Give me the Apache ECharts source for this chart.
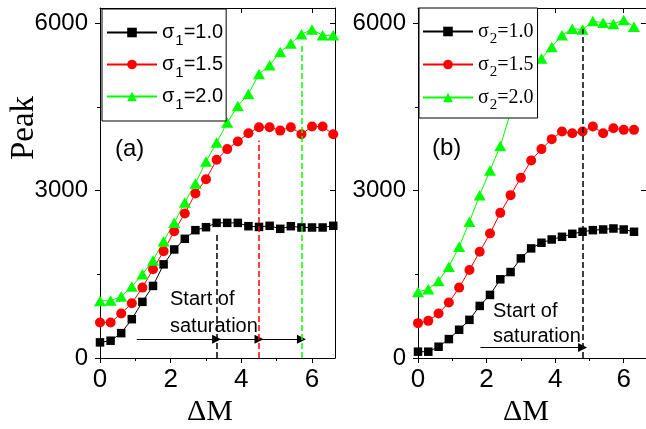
<!DOCTYPE html>
<html>
<head>
<meta charset="utf-8">
<script src="https://cdn.jsdelivr.net/npm/echarts@6/dist/echarts.min.js"></script>
<style>
  html, body { margin: 0; padding: 0; background: #fff; }
  #chart { width: 646px; height: 429px; }
</style>
</head>
<body>
<div id="chart"></div>
<script>
// ΔM sample positions for each panel
const deltaMA = [0, 0.3, 0.6, 0.9, 1.2, 1.5, 1.8, 2.1, 2.4, 2.7, 3.0, 3.3, 3.6, 3.9, 4.2, 4.5, 4.8, 5.1, 5.4, 5.7, 6.0, 6.3, 6.6];
const deltaMB = [0, 0.3, 0.6, 0.9, 1.2, 1.5, 1.8, 2.1, 2.4, 2.7, 3.0, 3.3, 3.6, 3.9, 4.2, 4.5, 4.8, 5.1, 5.4, 5.7, 6.0, 6.3];

// Panel (a): peak vs ΔM for three σ1 values
const peakA10 = [280, 310, 446, 696, 1006, 1292, 1679, 1946, 2137, 2292, 2345, 2423, 2423, 2423, 2363, 2350, 2370, 2316, 2363, 2340, 2340, 2340, 2370];
const peakA15 = [637, 637, 798, 982, 1262, 1590, 1916, 2274, 2590, 2950, 3205, 3554, 3745, 3881, 4031, 4138, 4138, 4077, 4138, 4013, 4149, 4149, 4013];
const peakA20 = [1024, 1030, 1101, 1280, 1500, 1750, 2095, 2423, 2790, 3130, 3524, 3863, 4220, 4519, 4733, 5090, 5250, 5488, 5638, 5805, 5888, 5786, 5786];

// Panel (b): peak vs ΔM for three σ2 values
const peakB10 = [113, 113, 202, 339, 506, 684, 934, 1131, 1411, 1541, 1786, 1965, 2066, 2125, 2173, 2227, 2263, 2292, 2304, 2322, 2304, 2263];
const peakB15 = [625, 666, 798, 994, 1262, 1577, 1905, 2232, 2602, 2920, 3230, 3542, 3745, 3924, 4060, 4030, 4060, 4149, 4030, 4120, 4090, 4090];
const peakB20 = [1185, 1232, 1381, 1637, 1994, 2441, 2920, 3363, 3800, 4400, 4750, 5072, 5370, 5578, 5786, 5905, 5888, 6040, 6010, 5990, 6060, 5940];

// Series names (σ + subscript index + value)
const namesA = ['σ1=1.0', 'σ1=1.5', 'σ1=2.0'];
const namesB = ['σ2=1.0', 'σ2=1.5', 'σ2=2.0'];

// Tick values
const xMajorTicks = [0, 2, 4, 6];
const xMinorTicks = [1, 3, 5];
const yMajorTicks = [0, 3000, 6000];
const yMinorTicks = [1500, 4500];
const xMax = 6.65;
const yMax = 6275;

// Start-of-saturation markers: ΔM position and dashed-line height
const satA = [3.3, 4.5, 5.7];
const satTopA = [2250, 3900, 5650];
const satB = [4.8];
const satTopB = [5900];
// Arrow baselines and starting ΔM
const arrowA = { from: 1.04, y: 335 };
const arrowB = { from: 1.82, y: 188 };

const SANS = '"Liberation Sans", Arial, Helvetica, sans-serif';
const SERIF = '"Liberation Serif", "Times New Roman", Times, serif';
const colors = ['#000000', '#ff0000', '#00ff00'];
const symbols = ['rect', 'circle', 'triangle'];
const symbolSizes = [8.5, 10, [12, 10.5]];

const chart = echarts.init(document.getElementById('chart'), null, { renderer: 'canvas' });

const grids = [
  { left: 100, top: 8, width: 235, height: 350 },
  { left: 418, top: 8, width: 235, height: 350 }
];

const xAxes = [];
const yAxes = [];

function addAxes(gi) {
  const base = { gridIndex: gi, type: 'value', splitLine: { show: false }, animation: false, z: 0 };
  const lineOn = { show: true, onZero: false, lineStyle: { color: '#000', width: 1 } };
  const lineOff = { show: false };
  const tickStyle = { color: '#000', width: 1 };
  const xi = xAxes.length;
  // bottom: line, major ticks + labels
  xAxes.push(Object.assign({}, base, {
    position: 'bottom', min: 0, max: xMax, axisLine: lineOn,
    axisTick: { show: true, inside: false, length: 5, customValues: xMajorTicks, lineStyle: tickStyle },
    axisLabel: { show: true, customValues: xMajorTicks, margin: 9, color: '#000', fontSize: 26, fontFamily: SANS, formatter: v => String(v) }
  }));
  // bottom: minor ticks
  xAxes.push(Object.assign({}, base, {
    position: 'bottom', min: 0, max: xMax, axisLine: lineOff,
    axisTick: { show: true, inside: false, length: 3, customValues: xMinorTicks, lineStyle: tickStyle },
    axisLabel: { show: false }
  }));
  // top mirror
  xAxes.push(Object.assign({}, base, {
    position: 'top', min: 0, max: xMax, axisLine: lineOn,
    axisTick: { show: true, inside: true, length: 5, customValues: xMajorTicks, lineStyle: tickStyle },
    axisLabel: { show: false }
  }));
  xAxes.push(Object.assign({}, base, {
    position: 'top', min: 0, max: xMax, axisLine: lineOff,
    axisTick: { show: true, inside: true, length: 3, customValues: xMinorTicks, lineStyle: tickStyle },
    axisLabel: { show: false }
  }));
  const yi = yAxes.length;
  yAxes.push(Object.assign({}, base, {
    position: 'left', min: 0, max: yMax, axisLine: lineOn,
    axisTick: { show: true, inside: false, length: 5, customValues: yMajorTicks, lineStyle: tickStyle },
    axisLabel: { show: true, customValues: yMajorTicks, margin: 12, color: '#000', fontSize: 24, fontFamily: SANS, formatter: v => String(v) }
  }));
  yAxes.push(Object.assign({}, base, {
    position: 'left', min: 0, max: yMax, axisLine: lineOff,
    axisTick: { show: true, inside: false, length: 3, customValues: yMinorTicks, lineStyle: tickStyle },
    axisLabel: { show: false }
  }));
  yAxes.push(Object.assign({}, base, {
    position: 'right', min: 0, max: yMax, axisLine: lineOn,
    axisTick: { show: true, inside: true, length: 5, customValues: yMajorTicks, lineStyle: tickStyle },
    axisLabel: { show: false }
  }));
  yAxes.push(Object.assign({}, base, {
    position: 'right', min: 0, max: yMax, axisLine: lineOff,
    axisTick: { show: true, inside: true, length: 3, customValues: yMinorTicks, lineStyle: tickStyle },
    axisLabel: { show: false }
  }));
  return { xi, yi };
}

const axA = addAxes(0);
const axB = addAxes(1);

function pairs(xs, ys) {
  return ys.map((v, i) => [xs[i], v]);
}

function makeSeries(name, idx, xs, ys, ax, markLine) {
  const s = {
    name: name,
    type: 'line',
    xAxisIndex: ax.xi,
    yAxisIndex: ax.yi,
    data: pairs(xs, ys),
    symbol: symbols[idx],
    symbolSize: symbolSizes[idx],
    showAllSymbol: true,
    clip: true,
    lineStyle: { color: colors[idx], width: 1 },
    itemStyle: { color: colors[idx], opacity: 1 },
    emphasis: { disabled: true },
    animation: false,
    z: 2
  };
  if (markLine) s.markLine = markLine;
  return s;
}

function dashedLine(x, top, color) {
  return [
    { coord: [x, 0], lineStyle: { color: color, type: [6, 3], width: 1.5 }, symbol: 'none' },
    { coord: [x, top], symbol: 'none' }
  ];
}

function arrowSegment(x0, x1, y) {
  return [
    { coord: [x0, y], lineStyle: { color: '#000', type: 'solid', width: 1 }, symbol: 'none' },
    { coord: [x1, y], symbol: 'triangle', symbolSize: 9 }
  ];
}

function markLineOf(items) {
  return {
    silent: true,
    animation: false,
    symbol: ['none', 'triangle'],
    symbolSize: 9,
    label: { show: false },
    emphasis: { disabled: true },
    data: items
  };
}

// Panel (a): arrows run from the start point through each saturation ΔM
const arrowItemsA = [];
let prevA = arrowA.from;
satA.forEach(x => { arrowItemsA.push(arrowSegment(prevA, x, arrowA.y)); prevA = x; });
arrowItemsA.push(dashedLine(satA[0], satTopA[0], colors[0]));

const arrowItemsB = [arrowSegment(arrowB.from, satB[0], arrowB.y), dashedLine(satB[0], satTopB[0], colors[0])];

const series = [
  makeSeries(namesA[0], 0, deltaMA, peakA10, axA, markLineOf(arrowItemsA)),
  makeSeries(namesA[1], 1, deltaMA, peakA15, axA, markLineOf([dashedLine(satA[1], satTopA[1], colors[1])])),
  makeSeries(namesA[2], 2, deltaMA, peakA20, axA, markLineOf([dashedLine(satA[2], satTopA[2], colors[2])])),
  makeSeries(namesB[0], 0, deltaMB, peakB10, axB, markLineOf(arrowItemsB)),
  makeSeries(namesB[1], 1, deltaMB, peakB15, axB, null),
  makeSeries(namesB[2], 2, deltaMB, peakB20, axB, null)
];

function legendFor(names, left, top, family, gap, pad, subPad) {
  return {
    show: true,
    z: 20,
    orient: 'vertical',
    left: left,
    top: top,
    data: names,
    selectedMode: false,
    itemWidth: 50,
    itemHeight: 12,
    itemGap: gap,
    padding: pad,
    backgroundColor: '#ffffff',
    borderColor: '#000000',
    borderWidth: 1,
    borderRadius: 0,
    formatter: n => '{m|σ}{s|' + n.charAt(1) + '}{m|' + n.slice(2) + '}',
    textStyle: {
      color: '#000',
      rich: {
        m: { fontSize: 20, lineHeight: 20, fontFamily: family, color: '#000', verticalAlign: 'middle' },
        s: { fontSize: 15, lineHeight: 15, fontFamily: family, color: '#000', verticalAlign: 'middle', padding: [subPad, 0, 0, 1] }
      }
    }
  };
}

const option = {
  backgroundColor: '#ffffff',
  animation: false,
  grid: grids,
  xAxis: xAxes,
  yAxis: yAxes,
  legend: [
    legendFor(namesA, 102, 9, SANS, 1, [8, 3, 9, 4], 16),
    legendFor(namesB, 419, 8, SERIF, 2, [8, 4, 5, 3], 16)
  ],
  series: series,
  graphic: [
    { type: 'text', x: 24, y: 128, rotation: Math.PI / 2, style: { text: 'Peak', font: '33px ' + SERIF, fill: '#000', align: 'center', verticalAlign: 'middle' } },
    { type: 'text', x: 210, y: 412, style: { text: 'ΔM', font: '30px ' + SERIF, fill: '#000', align: 'center', verticalAlign: 'middle' } },
    { type: 'text', x: 526, y: 412, style: { text: 'ΔM', font: '30px ' + SERIF, fill: '#000', align: 'center', verticalAlign: 'middle' } },
    { type: 'text', x: 115, y: 149, style: { text: '(a)', font: '24px ' + SANS, fill: '#000', align: 'left', verticalAlign: 'middle' } },
    { type: 'text', x: 432, y: 148, style: { text: '(b)', font: '24px ' + SANS, fill: '#000', align: 'left', verticalAlign: 'middle' } },
    { type: 'text', x: 170, y: 299, style: { text: 'Start of', font: '20px ' + SANS, fill: '#000', align: 'left', verticalAlign: 'middle' } },
    { type: 'text', x: 170, y: 326, style: { text: 'saturation', font: '20px ' + SANS, fill: '#000', align: 'left', verticalAlign: 'middle' } },
    { type: 'text', x: 493, y: 311, style: { text: 'Start of', font: '20px ' + SANS, fill: '#000', align: 'left', verticalAlign: 'middle' } },
    { type: 'text', x: 493, y: 336, style: { text: 'saturation', font: '20px ' + SANS, fill: '#000', align: 'left', verticalAlign: 'middle' } }
  ]
};

chart.setOption(option);
</script>
</body>
</html>
